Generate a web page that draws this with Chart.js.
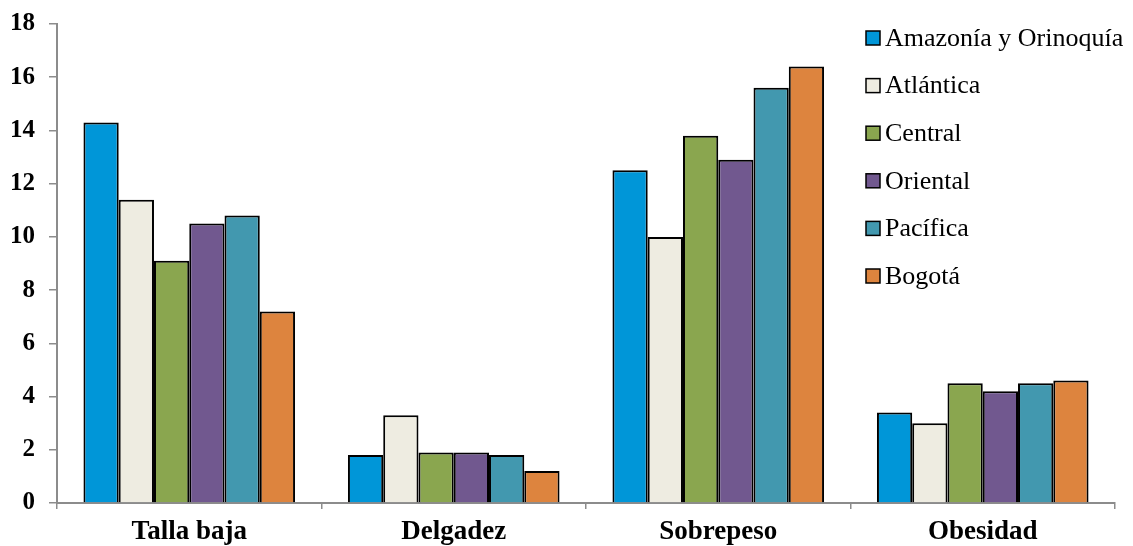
<!DOCTYPE html>
<html>
<head>
<meta charset="utf-8">
<script src="https://cdn.jsdelivr.net/npm/chart.js@4.4.1/dist/chart.umd.min.js"></script>
<style>
  html, body { margin: 0; padding: 0; background: #fff; }
  #wrap { width: 1133px; height: 546px; }
</style>
</head>
<body>
<div id="wrap"><canvas id="c" width="1133" height="546"></canvas></div>
<script>
// Indicadores nutricionales por región (%)
const categories = ['Talla baja', 'Delgadez', 'Sobrepeso', 'Obesidad'];
const regions = ['Amazonía y Orinoquía', 'Atlántica', 'Central', 'Oriental', 'Pacífica', 'Bogotá'];
const amazonia  = [14.3, 1.8, 12.5, 3.4];
const atlantica = [11.4, 3.3, 10.0, 3.0];
const central   = [9.1, 1.9, 13.8, 4.5];
const oriental  = [10.5, 1.9, 12.9, 4.2];
const pacifica  = [10.8, 1.8, 15.6, 4.5];
const bogota    = [7.2, 1.2, 16.4, 4.6];
const yTicks = [0, 2, 4, 6, 8, 10, 12, 14, 16, 18];

const seriesValues = [amazonia, atlantica, central, oriental, pacifica, bogota];
const colors = ['#0096D8', '#EEECE1', '#8AA64F', '#71588F', '#4298AF', '#DD843E'];

const serif = "'Liberation Serif', 'Times New Roman', serif";

// Legend drawn inside the plot area, top right
const insideLegend = {
  id: 'insideLegend',
  afterDraw(chart) {
    const ctx = chart.ctx;
    ctx.save();
    ctx.font = '26px ' + serif;
    ctx.textBaseline = 'middle';
    chart.data.datasets.forEach((ds, i) => {
      const y = 38 + i * 47.6;
      ctx.fillStyle = ds.backgroundColor;
      ctx.fillRect(866, y - 7, 14, 14);
      ctx.lineWidth = 1.5;
      ctx.strokeStyle = '#000';
      ctx.strokeRect(866, y - 7, 14, 14);
      ctx.fillStyle = '#000';
      ctx.fillText(ds.label, 885, y + 1);
    });
    ctx.restore();
  }
};

new Chart(document.getElementById('c'), {
  type: 'bar',
  data: {
    labels: categories,
    datasets: regions.map((name, i) => ({
      label: name,
      data: seriesValues[i],
      backgroundColor: colors[i],
      borderColor: '#000',
      borderWidth: 2,
      borderSkipped: 'bottom',
      categoryPercentage: 0.8,
      barPercentage: 1.0
    }))
  },
  options: {
    responsive: false,
    animation: false,
    devicePixelRatio: 1,
    layout: { padding: { top: 24, right: 18, left: 0, bottom: 0 } },
    plugins: {
      legend: { display: false },
      tooltip: { enabled: false }
    },
    scales: {
      x: {
        offset: true,
        grid: {
          offset: true,
          drawOnChartArea: false,
          drawTicks: true,
          tickLength: 6,
          color: '#8C8C8C',
          lineWidth: 1.5
        },
        border: { display: true, color: '#8C8C8C', width: 2 },
        ticks: {
          color: '#000',
          padding: 7,
          font: { family: serif, size: 27, weight: 'bold' },
          maxRotation: 0
        },
        afterFit(scale) {
          scale.height = 43;
          scale.paddingLeft = 0;
          scale.paddingRight = 0;
        }
      },
      y: {
        min: 0,
        max: 18,
        afterBuildTicks(scale) { scale.ticks = yTicks.map(v => ({ value: v })); },
        grid: {
          drawOnChartArea: false,
          drawTicks: true,
          tickLength: 8,
          color: '#8C8C8C',
          lineWidth: 1.5
        },
        border: { display: true, color: '#8C8C8C', width: 2 },
        ticks: {
          color: '#000',
          padding: 14,
          font: { family: serif, size: 25, weight: 'bold' }
        },
        afterFit(scale) {
          scale.width = 57;
          scale.paddingTop = 0;
          scale.paddingBottom = 0;
        }
      }
    }
  },
  plugins: [insideLegend]
});
</script>
</body>
</html>
